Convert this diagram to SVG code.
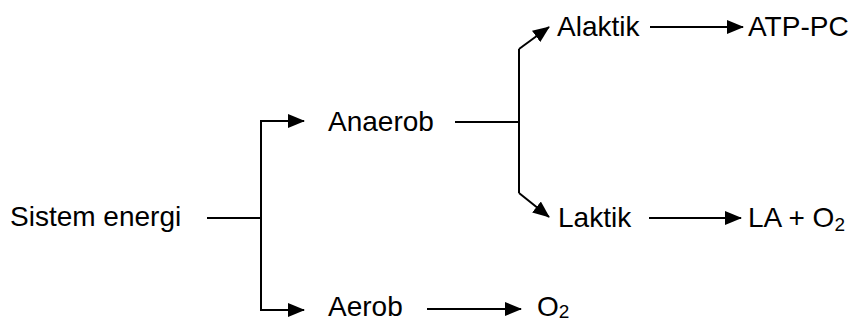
<svg xmlns="http://www.w3.org/2000/svg" width="857" height="322" viewBox="0 0 857 322">
  <style>
    .lbl { font-family: "Liberation Sans", Arial, sans-serif; font-size: 28px; fill: #000; }
    .ln { stroke: #000; stroke-width: 2; fill: none; }
  </style>
  <defs>
    <marker id="arr" markerWidth="17" markerHeight="14" refX="16" refY="7" orient="auto" markerUnits="userSpaceOnUse">
      <path d="M0,0 L17,7 L0,14 Z" fill="#000"/>
    </marker>
  </defs>
  <rect width="857" height="322" fill="#fff"/>

  <g id="connectors">
    <path class="ln" d="M207,218 H261"/>
    <path class="ln" d="M261,121 V310"/>
    <path class="ln" d="M260,121 H304" marker-end="url(#arr)"/>
    <path class="ln" d="M260,310 H304" marker-end="url(#arr)"/>
    <path class="ln" d="M455,122 H519"/>
    <path class="ln" d="M519,49 V193"/>
    <path class="ln" d="M519,49 L549,27" marker-end="url(#arr)"/>
    <path class="ln" d="M519,193 L549,217" marker-end="url(#arr)"/>
    <path class="ln" d="M650,27 H743" marker-end="url(#arr)"/>
    <path class="ln" d="M649,218 H741" marker-end="url(#arr)"/>
    <path class="ln" d="M427,309 H521" marker-end="url(#arr)"/>
  </g>

  <g id="sistem-energi"><text class="lbl" x="10" y="226" font-size="29">Sistem energi</text></g>
  <g id="anaerob"><text class="lbl" x="328" y="131">Anaerob</text></g>
  <g id="aerob"><text class="lbl" x="328" y="316">Aerob</text></g>
  <g id="alaktik"><text class="lbl" x="557" y="36">Alaktik</text></g>
  <g id="atp-pc"><text class="lbl" x="748" y="36">ATP-PC</text></g>
  <g id="laktik"><text class="lbl" x="558" y="227">Laktik</text></g>
  <g id="la-o2"><text class="lbl" x="748" y="227">LA + O<tspan font-size="19" dy="4">2</tspan></text></g>
  <g id="o2"><text class="lbl" x="537" y="316">O<tspan font-size="19" dy="2">2</tspan></text></g>
</svg>
